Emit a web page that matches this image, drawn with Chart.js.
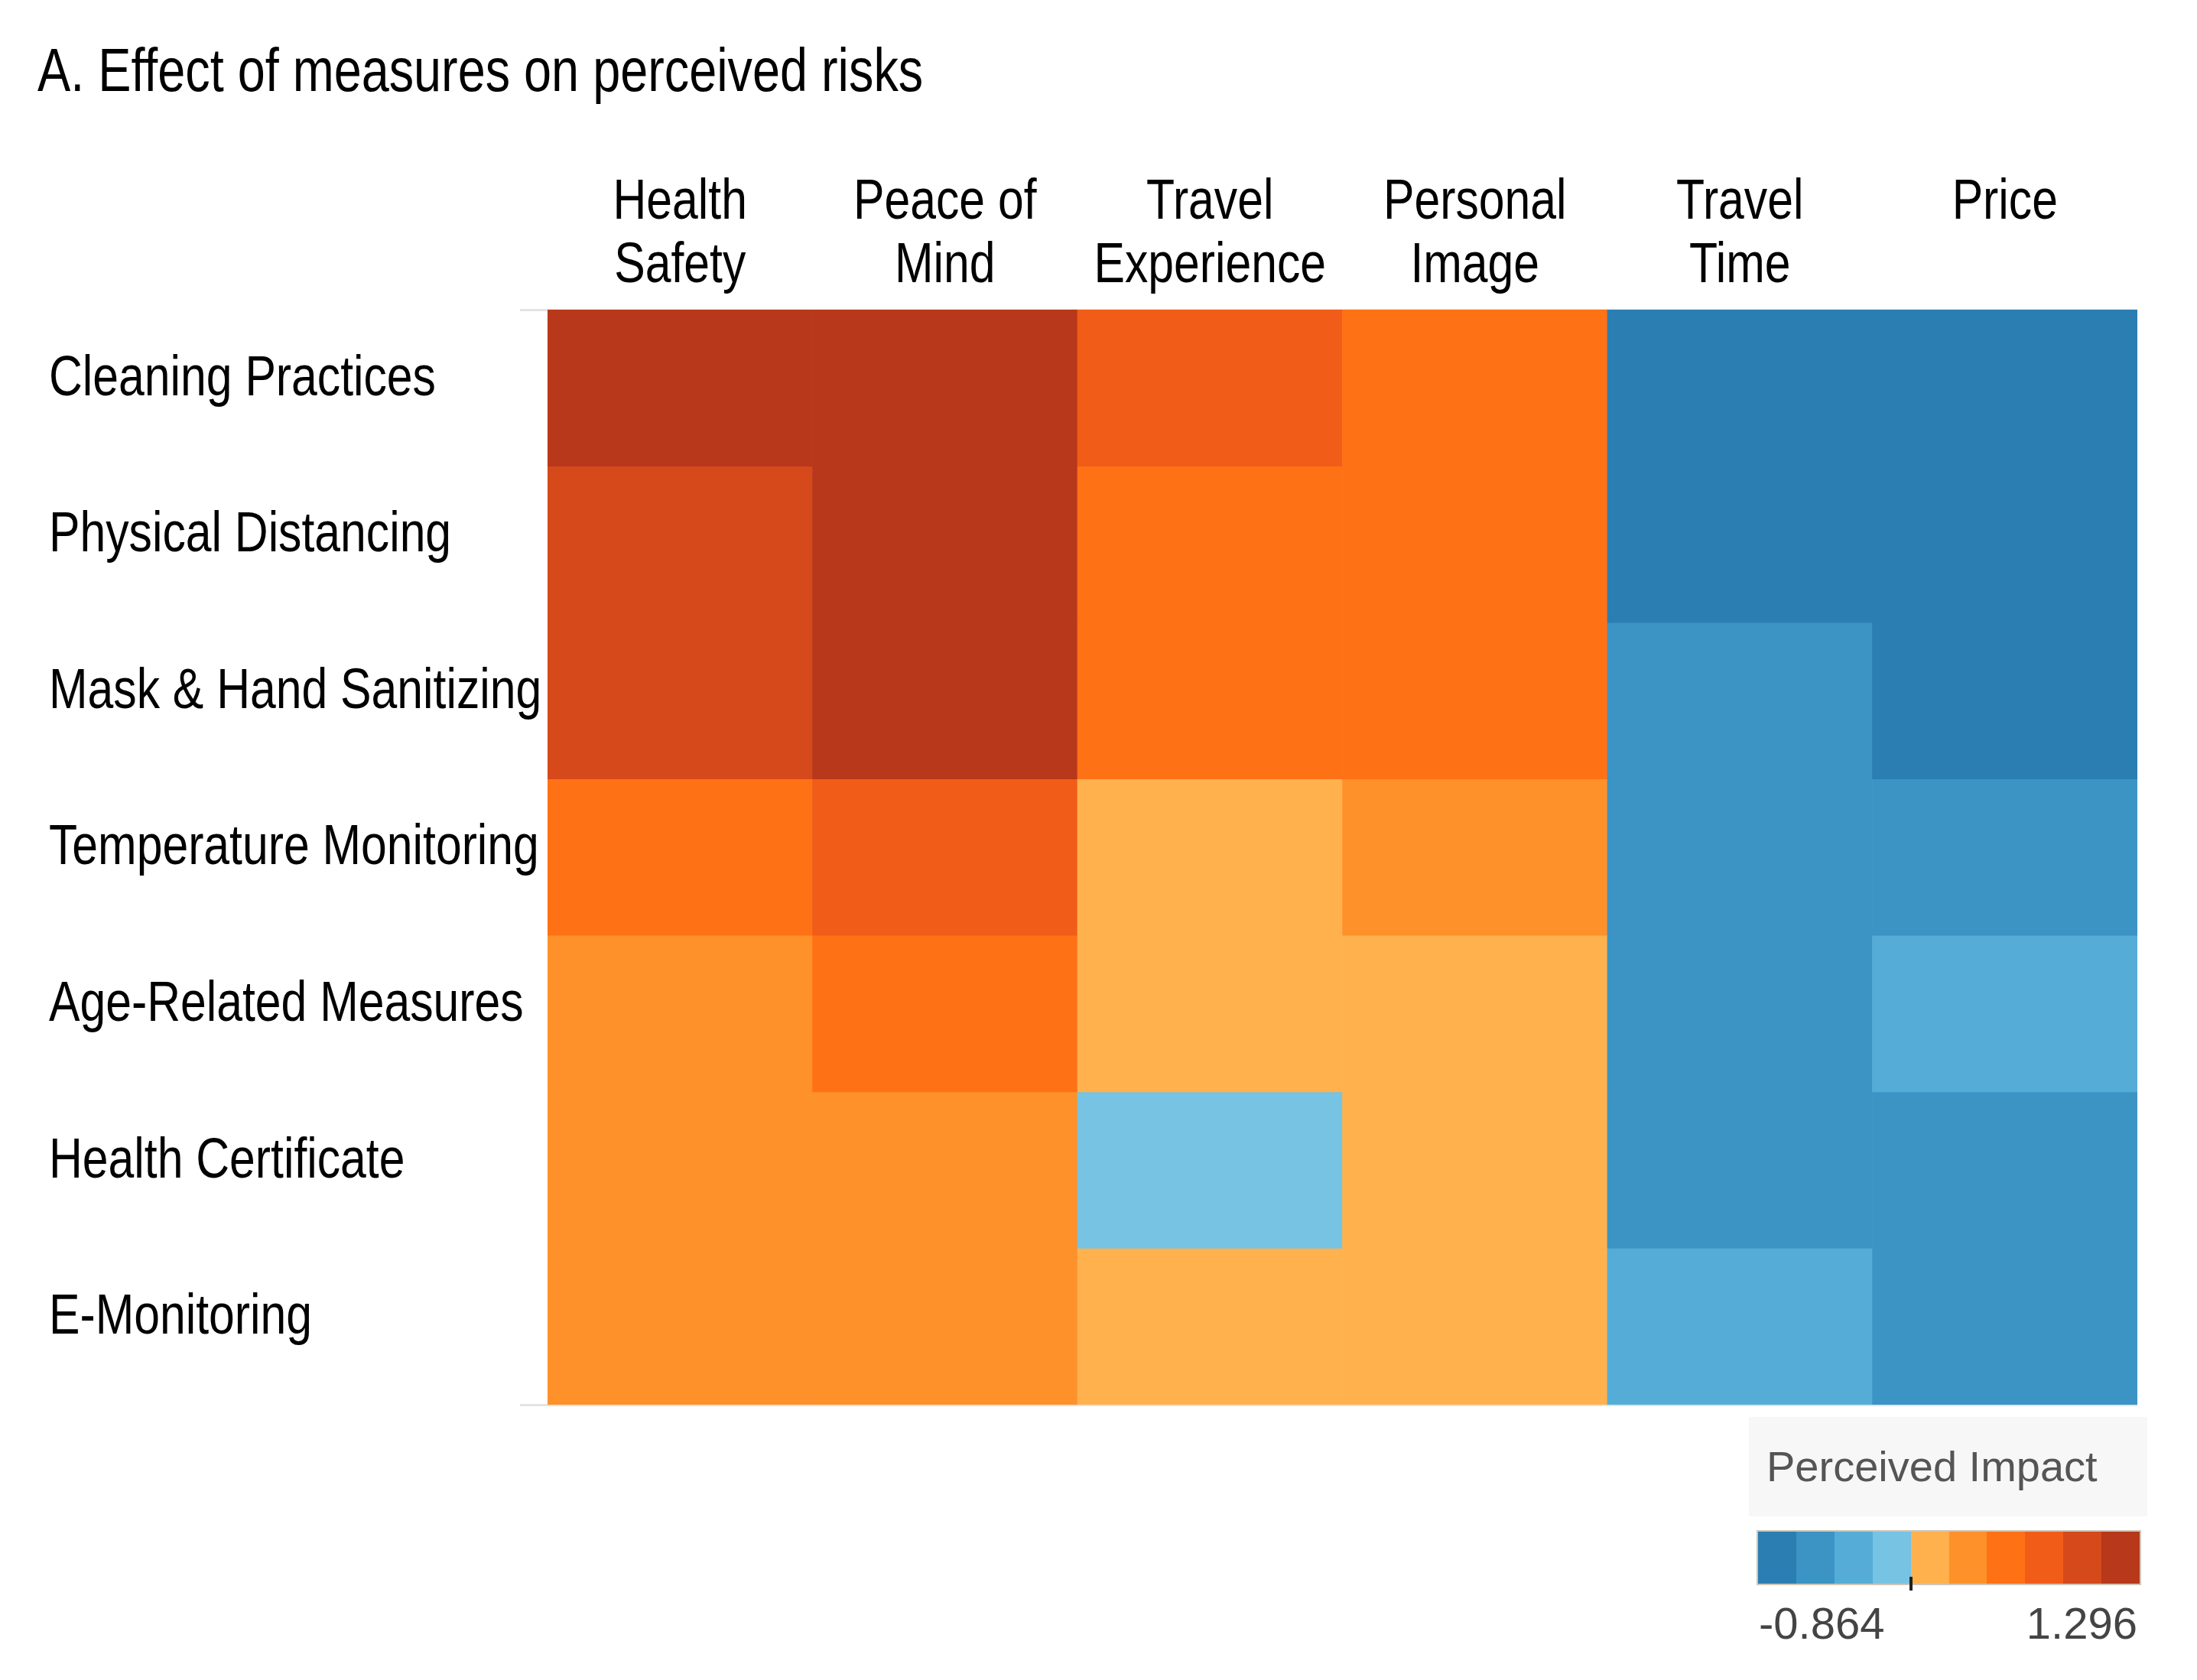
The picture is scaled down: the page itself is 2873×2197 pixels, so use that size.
<!DOCTYPE html>
<html>
<head>
<meta charset="utf-8">
<script src="https://cdn.jsdelivr.net/npm/chart.js@4.4.1/dist/chart.umd.min.js"></script>
<style>
  html, body { margin: 0; padding: 0; background: #ffffff; }
  #wrap { position: relative; width: 2873px; height: 2197px; overflow: hidden; }
  #c { position: absolute; left: 0; top: 0; }
  .abs { position: absolute; white-space: nowrap; }
</style>
</head>
<body>
<div id="wrap">
  <canvas id="c" width="2873" height="2197" style="width:2873px;height:2197px"></canvas>
  <div id="legendBox" class="abs" style="left:2287px;top:1853px;width:521px;height:130px;background:#f7f7f7;"></div>
  <div id="legendTitle" class="abs" style="left:2310px;top:1890px;font:56px/56px 'Liberation Sans', Arial, sans-serif;color:#555;"></div>
  <div id="legendBar" class="abs" style="left:2297px;top:2001px;width:503px;height:72px;box-sizing:border-box;border:2px solid #cfc6b8;display:flex;"></div>
  <div id="legendZero" class="abs" style="left:2497px;top:2062px;width:4px;height:18px;background:#222;"></div>
  <div id="legendMin" class="abs" style="left:2300px;top:2094px;font:58px/58px 'Liberation Sans', Arial, sans-serif;color:#444;"></div>
  <div id="legendMax" class="abs" style="right:78px;top:2094px;font:58px/58px 'Liberation Sans', Arial, sans-serif;color:#444;text-align:right;"></div>
</div>
<script>
// ---------------- data ----------------
const chartTitle = 'A. Effect of measures on perceived risks';
const legendTitle = 'Perceived Impact';

const measures = [
  'Cleaning Practices',
  'Physical Distancing',
  'Mask & Hand Sanitizing',
  'Temperature Monitoring',
  'Age-Related Measures',
  'Health Certificate',
  'E-Monitoring'
];

const risks = [
  ['Health', 'Safety'],
  ['Peace of', 'Mind'],
  ['Travel', 'Experience'],
  ['Personal', 'Image'],
  ['Travel', 'Time'],
  ['Price']
];

// perceived impact per measure (columns follow `risks`)
const cleaningPractices     = [1.21, 1.296, 0.74, 0.55, -0.79, -0.864];
const physicalDistancing    = [0.98, 1.19, 0.58, 0.53, -0.73, -0.78];
const maskHandSanitizing    = [0.95, 1.16, 0.52, 0.50, -0.60, -0.70];
const temperatureMonitoring = [0.50, 0.70, 0.12, 0.34, -0.56, -0.52];
const ageRelatedMeasures    = [0.30, 0.47, 0.10, 0.15, -0.50, -0.38];
const healthCertificate     = [0.33, 0.28, -0.12, 0.14, -0.54, -0.47];
const eMonitoring           = [0.26, 0.25, 0.08, 0.11, -0.33, -0.49];

const impactRows = [
  cleaningPractices, physicalDistancing, maskHandSanitizing,
  temperatureMonitoring, ageRelatedMeasures, healthCertificate, eMonitoring
];

const legendTicks = ['-0.864', '1.296'];
const impactMin = -0.864;
const impactMax = 1.296;

// stepped orange-blue diverging palette (10 steps)
const palette = [
  '#2a7eb1', '#3b94c4', '#55add7', '#76c3e3',
  '#ffb14e', '#fe9129', '#ff7115', '#f15c18', '#d5491a', '#b7381a'
];

function colorFor(v) {
  const step = (impactMax - impactMin) / palette.length;
  let k = Math.floor((v - impactMin) / step + 1e-9);
  k = Math.max(0, Math.min(palette.length - 1, k));
  return palette[k];
}

// ---------------- narrow text (Arial-Narrow-like: 82% horizontal scale) ----------------
const canvas = document.getElementById('c');
const ctx2d = canvas.getContext('2d');
const NARROW = 0.82;
const origFillText = ctx2d.fillText.bind(ctx2d);
const origMeasureText = ctx2d.measureText.bind(ctx2d);
ctx2d.fillText = function (text, x, y, maxWidth) {
  this.save();
  this.translate(x, y);
  this.scale(NARROW, 1);
  if (maxWidth === undefined || maxWidth === null) {
    origFillText(text, 0, 0);
  } else {
    origFillText(text, 0, 0, maxWidth / NARROW);
  }
  this.restore();
};
ctx2d.measureText = function (text) {
  const m = origMeasureText(text);
  return {
    width: m.width * NARROW,
    actualBoundingBoxAscent: m.actualBoundingBoxAscent,
    actualBoundingBoxDescent: m.actualBoundingBoxDescent,
    actualBoundingBoxLeft: m.actualBoundingBoxLeft * NARROW,
    actualBoundingBoxRight: m.actualBoundingBoxRight * NARROW
  };
};

// ---------------- chart ----------------
const FONT = "'Liberation Sans', Arial, sans-serif";
const TITLE_PAD_TOP = 50;
const TITLE_SIZE = 79;
const TITLE_LH = 1.2;
const PLOT_TOP = 405;

const datasets = measures.map((m, i) => ({
  label: m,
  data: risks.map(() => 1),           // one unit-high cell per measure/risk
  backgroundColor: impactRows[i].map(colorFor),
  borderWidth: 0,
  barPercentage: 1,
  categoryPercentage: 1,
  xAxisID: 'x',
  yAxisID: 'y',
  stack: 'cells'
}));

new Chart(canvas, {
  type: 'bar',
  data: { labels: risks, datasets },
  options: {
    responsive: false,
    devicePixelRatio: 1,
    animation: false,
    events: [],
    layout: { padding: { left: 49, right: 78, top: 0, bottom: 360 } },
    plugins: {
      legend: { display: false },
      tooltip: { enabled: false },
      title: {
        display: true,
        text: chartTitle,
        align: 'start',
        color: '#000',
        font: { family: FONT, size: TITLE_SIZE, weight: 'normal', lineHeight: TITLE_LH },
        padding: { top: TITLE_PAD_TOP, bottom: 0 }
      }
    },
    scales: {
      x: {
        type: 'category',
        position: 'top',
        offset: true,
        stacked: true,
        grid: { display: false },
        border: { display: false },
        ticks: {
          crossAlign: 'far',
          padding: 7,
          maxRotation: 0,
          minRotation: 0,
          autoSkip: false,
          color: '#000',
          font: { family: FONT, size: 74, lineHeight: 83 / 74 }
        },
        afterFit: (s) => { s.height = PLOT_TOP - (TITLE_PAD_TOP + TITLE_SIZE * TITLE_LH); }
      },
      y: {
        type: 'linear',
        position: 'left',
        min: 0,
        max: measures.length,
        reverse: true,
        stacked: true,
        weight: 1,
        ticks: { display: false },
        grid: { display: false },
        border: { display: false },
        afterFit: (s) => { s.width = 15; }
      },
      y2: {
        type: 'category',
        position: 'left',
        labels: measures,
        offset: true,
        weight: 0,
        border: { display: false },
        grid: {
          display: true,
          offset: true,
          drawOnChartArea: true,
          drawTicks: true,
          tickLength: 36,
          lineWidth: 3,
          color: (ctx) => (ctx.type !== 'tick' || ctx.index === 0) ? '#e4e4e4' : 'rgba(0,0,0,0)'
        },
        ticks: {
          crossAlign: 'far',
          labelOffset: -11,
          padding: 0,
          autoSkip: false,
          color: '#000',
          font: { family: FONT, size: 74 }
        },
        afterFit: (s) => { s.width = 652; }
      }
    }
  }
});

// ---------------- colour legend ----------------
document.getElementById('legendTitle').textContent = legendTitle;
const bar = document.getElementById('legendBar');
palette.forEach(c => {
  const d = document.createElement('div');
  d.style.flex = '1';
  d.style.background = c;
  bar.appendChild(d);
});
document.getElementById('legendMin').textContent = legendTicks[0];
document.getElementById('legendMax').textContent = legendTicks[1];
</script>
</body>
</html>
